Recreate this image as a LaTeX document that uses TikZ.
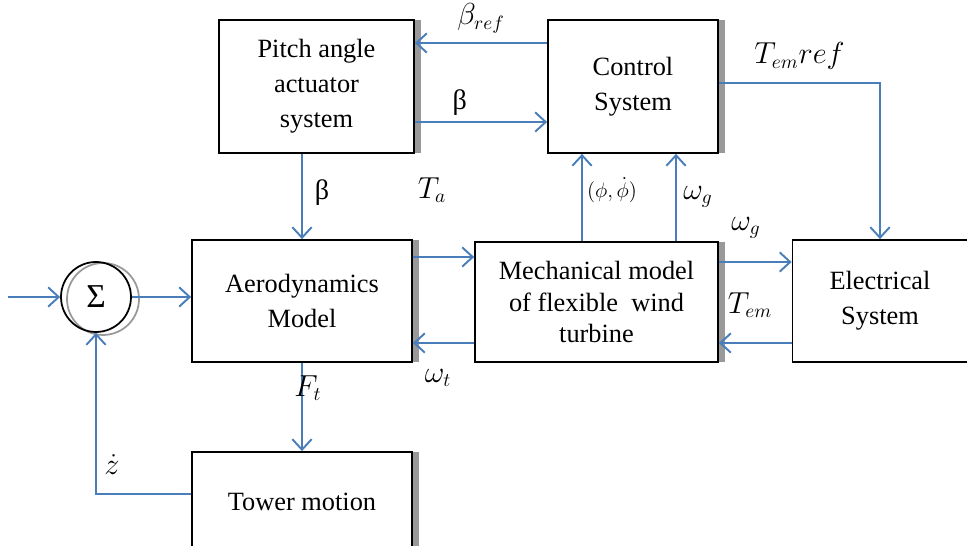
\documentclass[tikz,border=0pt]{standalone}
\usepackage{fontspec}
\setmainfont{Liberation Serif}
\usepackage{xcolor}
\usetikzlibrary{arrows.meta,positioning,shadows}
\definecolor{linkblue}{RGB}{74,126,187}

\begin{document}
\begin{tikzpicture}[
      x=0.02cm, y=-0.02cm,
      >={Straight Barb[length=6pt,width=11pt]},
      block/.style={draw, line width=1pt, fill=white, align=center,
        inner sep=0pt, font=\fontsize{15}{20}\selectfont,
        general shadow={fill=black!40, shadow xshift=4pt, shadow yshift=0pt}},
      link/.style={->, line width=1.1pt, linkblue},
      sig/.style={font=\fontsize{16}{18}\selectfont, text=black, inner sep=1pt}
    ]
    \useasboundingbox (0,0) rectangle (967,546);

    % blocks
    \node[block, minimum width=3.9cm, minimum height=2.66cm]
      (pitch) at (316.5,86.5) {Pitch angle\\actuator\\system};
    \node[block, minimum width=3.4cm, minimum height=2.66cm]
      (ctrl) at (633,86.5) {Control\\System};
    \node[block, minimum width=4.4cm, minimum height=2.44cm]
      (aero) at (302,301) {Aerodynamics\\Model};
    \node[block, minimum width=4.86cm, minimum height=2.4cm,
      font=\fontsize{15}{18}\selectfont]
      (mech) at (596.5,302) {Mechanical model\\of flexible\ \ wind\\turbine};
    \node[block, minimum width=3.5cm, minimum height=2.44cm]
      (elec) at (880,301) {Electrical\\System};
    \node[block, minimum width=4.4cm, minimum height=2.0cm]
      (tower) at (302,502) {Tower motion};

    % summing junction
    \node[circle, draw=black!40, line width=1pt, minimum size=1.44cm]
      (ring) at (103,299) {};
    \node[circle, draw, line width=1pt, minimum size=1.4cm,
      font=\fontsize{19}{19}\selectfont] (sum) at (96,297) {Σ};

    % connectors
    \coordinate (in) at (8,297);
    \draw[link] (in) -- (sum.west);
    \draw[link] (sum.east) -- (aero.west |- sum.east);
    \draw[link] (pitch.south -| aero.north) -- (aero.north);
    \draw[link] (ctrl.west |- 0,43) -- (pitch.east |- 0,43)
      node[sig, midway, above=4pt] {$\beta_{ref}$};
    \draw[link] (pitch.east |- 0,122) -- (ctrl.west |- 0,122)
      node[sig, pos=0.34, above=2pt] {β};
    \draw[link] (ctrl.east |- 0,83) -| (elec.north)
      node[sig, pos=0.25, above=6pt] {$T_{em}ref$};
    \draw[link] (aero.east |- 0,257) -- (mech.west |- 0,257);
    \draw[link] (mech.west |- 0,343) -- (aero.east |- 0,343);
    \draw[link] (mech.north -| 582,0) -- (ctrl.south -| 582,0);
    \draw[link] (mech.north -| 676,0) -- (ctrl.south -| 676,0);
    \draw[link] (mech.east |- 0,262) -- (elec.west |- 0,262);
    \draw[link] (elec.west |- 0,343) -- (mech.east |- 0,343);
    \draw[link] (aero.south) -- (tower.north);
    \draw[link] (tower.west |- 0,494) -| (sum.south);

    % signal names
    \node[sig] (b1) at (322,193) {β};
    \node[sig] (ta) at (432,190) {$T_a$};
    \node[sig] (wt) at (438,378) {$\omega_t$};
    \node[sig, font=\fontsize{13}{15}\selectfont] (phi) at (612,190)
      {$(\phi,\dot{\phi})$};
    \node[sig] (wg1) at (698,197) {$\omega_g$};
    \node[sig] (wg2) at (746,228) {$\omega_g$};
    \node[sig] (tem) at (750,305) {$T_{em}$};
    \node[sig] (ft) at (308,388) {$F_t$};
    \node[sig] (zd) at (112,465) {$\dot{z}$};
\end{tikzpicture}
\end{document}
